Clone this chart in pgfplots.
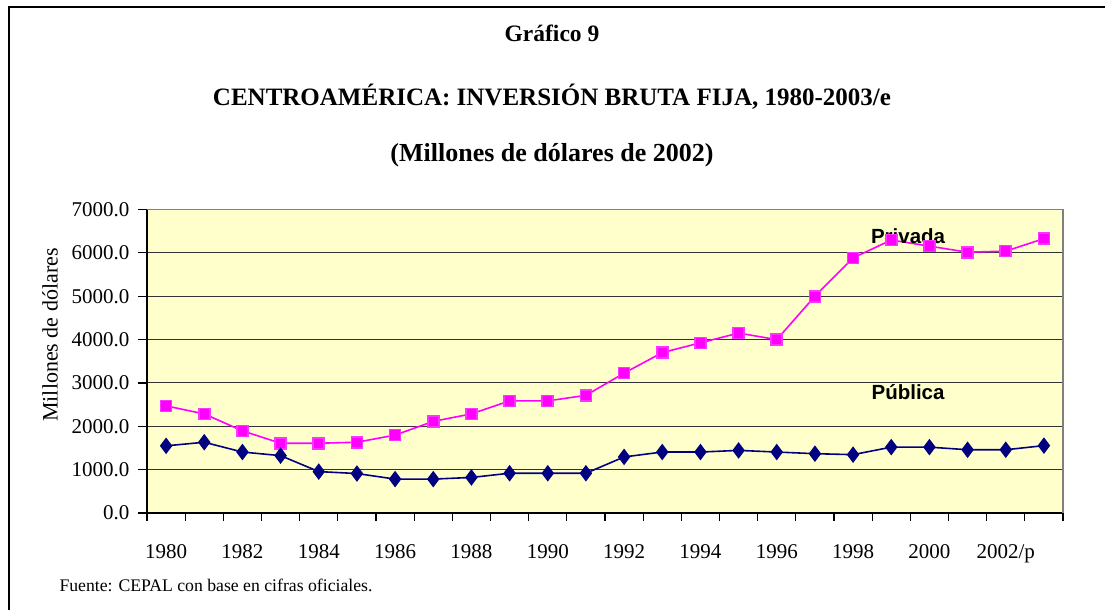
\documentclass[border=0pt]{standalone}
\usepackage{fontspec}
\setmainfont{Liberation Serif}
\newfontfamily\arial{Liberation Sans}
\usepackage{pgfplots}
\pgfplotsset{compat=1.18}
\definecolor{bgyellow}{HTML}{FFFFCC}
\definecolor{privada}{HTML}{FF00FF}
\definecolor{publica}{HTML}{000080}
\begin{document}
\begin{tikzpicture}[x=1pt,y=1pt]
\useasboundingbox (0,0) rectangle (1105,610);
\draw[line width=2pt] (8.5,0) -- (8.5,603) -- (1105,603);
\node[font=\bfseries\fontsize{23.5}{27}\selectfont] at (552,577) {Gráfico 9};
\node[font=\bfseries\fontsize{25}{29}\selectfont] at (552,513) {CENTROAMÉRICA: INVERSIÓN BRUTA FIJA, 1980-2003/e};
\node[font=\bfseries\fontsize{26}{30}\selectfont] at (552,455) {(Millones de dólares de 2002)};
\node[font=\fontsize{17.7}{21}\selectfont, anchor=west] at (56,25) {Fuente: CEPAL con base en cifras oficiales.};
\node[font=\fontsize{22}{26}\selectfont, rotate=90] at (50,275) {Millones de dólares};
\begin{axis}[
  at={(147pt,97pt)}, anchor=south west,
  scale only axis, width=916pt, height=303.5pt,
  xmin=-0.5, xmax=23.5, ymin=0, ymax=7000,
  axis background/.style={fill=bgyellow},
  axis x line*=bottom, axis y line*=left,
  axis line style={line width=1.6pt, black},
  xtick={0,2,...,22},
  xticklabels={1980,1982,1984,1986,1988,1990,1992,1994,1996,1998,2000,2002/p},
  major x tick style={draw=none},
  minor xtick={-0.5,0.5,...,23.5},
  minor tick length=8pt,
  minor x tick style={line width=1.2pt, black},
  ytick={0,1000,...,7000},
  major tick length=9pt,
  tick align=outside,
  major y tick style={line width=1.2pt, black},
  ymajorgrids,
  major grid style={line width=1pt, color=black!80},
  y tick label style={/pgf/number format/fixed, /pgf/number format/fixed zerofill, /pgf/number format/precision=1, /pgf/number format/1000 sep={}, /pgf/number format/assume math mode=true},
  scaled y ticks=false,
  ticklabel style={font=\fontsize{21}{25}\selectfont},
  xticklabel style={yshift=-19pt},
  yticklabel style={xshift=-5pt},
  clip=false,
]
\draw[gray, line width=1.2pt] (rel axis cs:0,1) -- (rel axis cs:1,1) -- (rel axis cs:1,0);
\addplot[color=privada, line width=1.6pt, mark=square*, mark size=5.5pt, mark options={fill=privada, draw=privada!80!white}] coordinates {
(0,2470) (1,2286) (2,1895) (3,1609) (4,1609) (5,1632) (6,1797) (7,2113) (8,2286) (9,2586) (10,2586) (11,2714) (12,3226) (13,3699) (14,3925) (15,4150) (16,4000) (17,5000) (18,5884) (19,6296) (20,6155) (21,6015) (22,6040) (23,6328)
};
\addplot[color=publica, line width=1.6pt, mark=diamond*, mark size=7pt, mark options={fill=publica, draw=publica}] coordinates {
(0,1549) (1,1632) (2,1406) (3,1323) (4,955) (5,910) (6,782) (7,782) (8,820) (9,917) (10,917) (11,917) (12,1293) (13,1406) (14,1406) (15,1444) (16,1406) (17,1368) (18,1346) (19,1519) (20,1519) (21,1459) (22,1459) (23,1554)
};
\node[font=\arial\bfseries\fontsize{20.5}{24}\selectfont] at (axis cs:19.44,6391) {Privada};
\node[font=\arial\bfseries\fontsize{20.5}{24}\selectfont] at (axis cs:19.44,2792) {Pública};
\end{axis}
\end{tikzpicture}
\end{document}
